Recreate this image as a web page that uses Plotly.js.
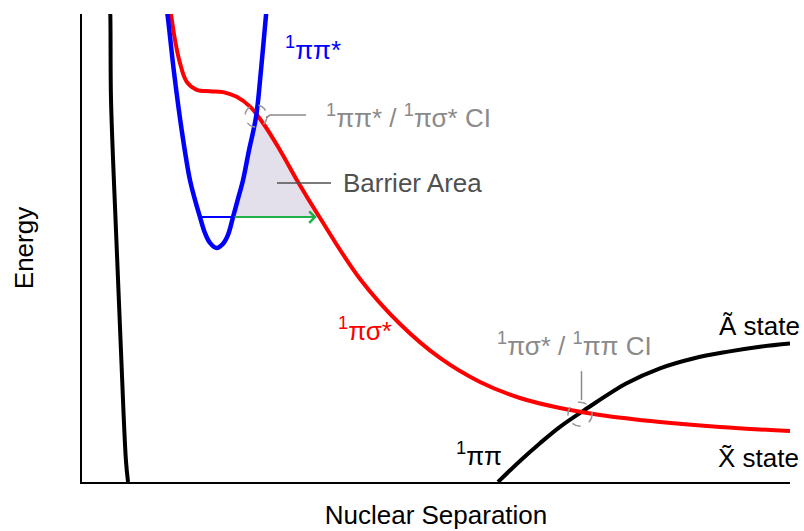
<!DOCTYPE html>
<html><head><meta charset="utf-8">
<script src="https://cdn.plot.ly/plotly-3.0.1.min.js"></script>
<style>html,body{margin:0;padding:0;background:#fff}#chart{width:804px;height:531px}</style>
</head><body><div id="chart"></div>
<script>
// ---- data (arbitrary units: separation 0..100, energy 0..100) ----
// repulsive wall (black, left)
const wallX = [3.9, 4.0, 4.1, 4.8, 5.5, 6.2, 6.5];
const wallY = [103, 99.8, 81.6, 53.8, 28.2, 4.7, 0];
// 1ππ* bound state (blue)
const pipiStarX = [11.86,12.08,12.99,14.08,15.25,15.96,16.67,17.37,18.08,19.03,19.92,20.62,21.33,22.03,22.74,23.59,24.58,25.28,25.99,26.13];
const pipiStarY = [101.9,99.8,87.6,75.2,64.5,60.3,56.6,53.2,51.1,50.0,50.9,52.8,56.6,60.5,64.5,70.9,78.0,88.0,99.8,101.9];
// 1πσ* dissociative state (red)
const pisigmaX = [12.15,12.57,13.14,13.84,14.79,16.20,18.08,19.92,21.85,23.73,25.61,27.97,30.51,33.62,39.27,44.92,50.56,56.21,61.86,67.51,73.16,81.64,90.11,100];
const pisigmaY = [103.0,99.8,94.4,89.5,85.5,83.8,83.5,83.3,82.3,80.2,76.6,70.9,64.1,56.41,43.38,33.76,26.50,21.37,17.95,15.81,14.32,12.82,11.75,10.90];
// 1ππ state rising to the Ã state (black, right)
const pipiX = [58.76,61.86,64.69,67.51,71.29,76.93,81.64,86.34,91.06,95.76,100];
const pipiY = [0,4.5,8.3,11.8,15.7,21.1,24.3,26.4,27.8,28.9,29.6];
// vibrational level in 1ππ* and tunnelling arrow
const levelY = 56.6;
const levelX = [16.67, 21.33];
const tunnelEndX = 33.15;
// conical intersections
const ci1 = [24.58, 78.2];
const ci2 = [70.34, 14.5];

// ---- barrier area polygon built from the curves ----
function crossX(xs, ys, yt, start) {
  for (let i = start; i < xs.length - 1; i++) {
    if ((ys[i] - yt) * (ys[i + 1] - yt) <= 0 && ys[i] !== ys[i + 1]) {
      return xs[i] + (yt - ys[i]) / (ys[i + 1] - ys[i]) * (xs[i + 1] - xs[i]);
    }
  }
  return null;
}
const minIdx = pipiStarY.indexOf(Math.min(...pipiStarY));
const polyX = [levelX[1]], polyY = [levelY];
for (let i = minIdx + 1; i < pipiStarX.length; i++) {
  if (pipiStarY[i] > levelY && pipiStarY[i] < ci1[1]) { polyX.push(pipiStarX[i]); polyY.push(pipiStarY[i]); }
}
polyX.push(ci1[0]); polyY.push(ci1[1]);
for (let i = 0; i < pisigmaX.length; i++) {
  if (pisigmaX[i] > ci1[0] && pisigmaY[i] > levelY) { polyX.push(pisigmaX[i]); polyY.push(pisigmaY[i]); }
}
const redAtLevel = crossX(pisigmaX, pisigmaY, levelY, 8);
polyX.push(redAtLevel); polyY.push(levelY);
polyX.push(levelX[1]); polyY.push(levelY);

const traces = [
  {x: polyX, y: polyY, mode: 'lines', fill: 'toself', fillcolor: '#e3dfeb', line: {width: 0, color: 'rgba(0,0,0,0)'}, hoverinfo: 'skip'},
  {x: wallX, y: wallY, mode: 'lines', line: {color: '#000', width: 4, shape: 'spline'}},
  {x: pipiX, y: pipiY, mode: 'lines', line: {color: '#000', width: 4, shape: 'spline'}},
  {x: pisigmaX, y: pisigmaY, mode: 'lines', line: {color: '#ff0000', width: 4, shape: 'spline'}},
  {x: levelX, y: [levelY, levelY], mode: 'lines', line: {color: '#0000ff', width: 2}},
  {x: pipiStarX, y: pipiStarY, mode: 'lines', line: {color: '#0000ff', width: 4.5, shape: 'spline'}}
];

const grey = '#8a8a8a', dark = '#505050';
const shapes = [
  {type: 'circle', xref: 'x', yref: 'y', xsizemode: 'pixel', ysizemode: 'pixel', xanchor: ci1[0], yanchor: ci1[1], x0: -11, x1: 11, y0: -11, y1: 11, line: {color: '#999', width: 1.5, dash: 'dash'}},
  {type: 'circle', xref: 'x', yref: 'y', xsizemode: 'pixel', ysizemode: 'pixel', xanchor: ci2[0], yanchor: ci2[1], x0: -12, x1: 12, y0: -12, y1: 12, line: {color: '#999', width: 1.5, dash: 'dash'}},
  {type: 'path', xref: 'x', yref: 'y', path: 'M 25.99,77.8 L 26.55,78.4 L 31.64,78.4', line: {color: grey, width: 1.5}},
  {type: 'line', xref: 'x', yref: 'y', x0: 27.54, x1: 35.17, y0: 63.9, y1: 63.9, line: {color: dark, width: 1.5}},
  {type: 'line', xref: 'x', yref: 'y', x0: 70.55, x1: 70.55, y0: 17.5, y1: 23.7, line: {color: grey, width: 1.5}}
];

const F = 'Liberation Sans, Arial, Helvetica, sans-serif';
const FS = 26;
const annotations = [
  {x: tunnelEndX, y: levelY, ax: levelX[1], ay: levelY, axref: 'x', ayref: 'y', xref: 'x', yref: 'y', text: '', showarrow: true, arrowhead: 4, arrowsize: 1.1, arrowwidth: 2, arrowcolor: '#1fb04a'},
  {x: 28.4, y: 92.7, xref: 'x', yref: 'y', xanchor: 'left', text: '<sup>1</sup>ππ*', showarrow: false, font: {family: F, size: FS, color: '#0000ff'}},
  {x: 34.2, y: 78.0, xref: 'x', yref: 'y', xanchor: 'left', text: '<sup>1</sup>ππ* / <sup>1</sup>πσ* CI', showarrow: false, font: {family: F, size: FS, color: grey}},
  {x: 36.6, y: 63.9, xref: 'x', yref: 'y', xanchor: 'left', text: 'Barrier Area', showarrow: false, font: {family: F, size: FS, color: dark}},
  {x: 39.97, y: 32.5, xref: 'x', yref: 'y', xanchor: 'center', text: '<sup>1</sup>πσ*', showarrow: false, font: {family: F, size: FS, color: '#ff0000'}},
  {x: 58.3, y: 29.3, xref: 'x', yref: 'y', xanchor: 'left', text: '<sup>1</sup>πσ* / <sup>1</sup>ππ CI', showarrow: false, font: {family: F, size: FS, color: grey}},
  {x: 1.017, y: 33.3, xref: 'paper', yref: 'y', xanchor: 'right', text: 'Ã state', showarrow: false, font: {family: F, size: FS, color: '#000'}},
  {x: 1.016, y: 5.1, xref: 'paper', yref: 'y', xanchor: 'right', text: 'X\u0303 state', showarrow: false, font: {family: F, size: FS, color: '#000'}},
  {x: 56.07, y: 5.8, xref: 'x', yref: 'y', xanchor: 'center', text: '<sup>1</sup>ππ', showarrow: false, font: {family: F, size: FS, color: '#000'}}
];

const axisCommon = {showgrid: false, zeroline: false, showticklabels: false, ticks: '', showline: true, linecolor: '#000', linewidth: 2, fixedrange: true};
const layout = {
  width: 804, height: 531,
  margin: {l: 82, r: 14, t: 14, b: 49},
  paper_bgcolor: '#fff', plot_bgcolor: '#fff',
  showlegend: false, hovermode: false,
  font: {family: F, size: FS, color: '#000'},
  xaxis: Object.assign({range: [0, 100], title: {text: 'Nuclear Separation', font: {family: F, size: FS, color: '#000'}, standoff: 23}}, axisCommon),
  yaxis: Object.assign({range: [0, 100], title: {text: 'Energy', font: {family: F, size: FS, color: '#000'}, standoff: 39}}, axisCommon),
  shapes: shapes,
  annotations: annotations
};
Plotly.newPlot('chart', traces, layout, {staticPlot: true, displayModeBar: false});
</script>
</body></html>
